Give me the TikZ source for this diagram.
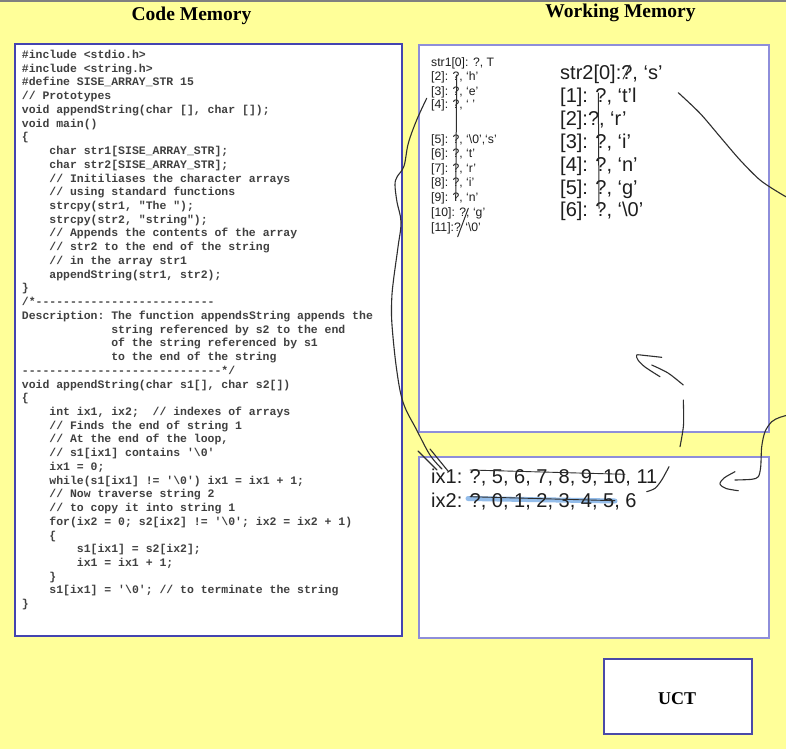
\documentclass[tikz,border=0pt]{standalone}
\usepackage{fontspec}
\setmainfont{Liberation Serif}
\setmonofont{Liberation Mono}
\newfontfamily\wmsans{Liberation Sans}

\definecolor{bgyellow}{HTML}{FFFF99}
\definecolor{codeframe}{HTML}{4444B0}
\definecolor{wmframe}{HTML}{8E8EDA}
\definecolor{uctframe}{HTML}{4A4AA8}
\definecolor{codeink}{HTML}{404040}
\definecolor{wmink}{HTML}{1E1E1E}
\definecolor{ink}{HTML}{2E2E2E}
\definecolor{hilite}{HTML}{5B9BE0}

% one line of the C listing: #1 line number, #2 indent in characters, #3 text
\newcommand\codeln[3]{\node[codeline] (cl#1) at ({21.7+#2*6.88},{58.5+(#1-1)*13.73}) {#3};}

\begin{document}
\begin{tikzpicture}[x=1pt,y=-1pt,
  title/.style={anchor=base, inner sep=0pt, font=\fontsize{19.5}{20}\selectfont\bfseries},
  codeline/.style={anchor=base west, inner sep=0pt, font=\fontsize{11.47}{13}\selectfont\ttfamily\bfseries, text=codeink},
  smallcell/.style={anchor=base west, inner sep=0pt, font=\fontsize{12.2}{13}\selectfont\wmsans, text=wmink},
  bigcell/.style={anchor=base west, inner sep=0pt, font=\fontsize{20}{22}\selectfont\wmsans, text=wmink},
  codebox/.style={draw=codeframe, line width=2pt, fill=white},
  wmbox/.style={draw=wmframe, line width=1.6pt, fill=white},
  handline/.style={draw=ink, line width=1.1pt, line cap=round, line join=round},
  strikeline/.style={draw=ink, line width=0.9pt, line cap=round}]

\useasboundingbox (0,0) rectangle (786,749);
\fill[bgyellow] (0,0) rectangle (786,749);
\draw[gray, line width=2.5pt] (0,1.25) -- (786,1.25);

% headings
\node[title] (tcode) at (191.5,21) {Code Memory};
\node[title] (twork) at (620.5,17.5) {Working Memory};

% frames
\draw[codebox] (15,44) rectangle (402,636);
\draw[wmbox] (419,45) rectangle (769,432);
\draw[wmbox] (419,457) rectangle (769,638);
\draw[draw=uctframe, line width=2.5pt, fill=white] (604,659) rectangle (752,734);
\node[title, font=\fontsize{18}{20}\selectfont\bfseries] (uct) at (677,704) {UCT};

% the C program
\codeln{1}{0}{\#include <stdio.h>}
\codeln{2}{0}{\#include <string.h>}
\codeln{3}{0}{\#define SISE\_ARRAY\_STR 15}
\codeln{4}{0}{// Prototypes}
\codeln{5}{0}{void appendString(char [], char []);}
\codeln{6}{0}{void main()}
\codeln{7}{0}{\{}
\codeln{8}{4}{char str1[SISE\_ARRAY\_STR];}
\codeln{9}{4}{char str2[SISE\_ARRAY\_STR];}
\codeln{10}{4}{// Initiliases the character arrays}
\codeln{11}{4}{// using standard functions}
\codeln{12}{4}{strcpy(str1, "The ");}
\codeln{13}{4}{strcpy(str2, "string");}
\codeln{14}{4}{// Appends the contents of the array}
\codeln{15}{4}{// str2 to the end of the string}
\codeln{16}{4}{// in the array str1}
\codeln{17}{4}{appendString(str1, str2);}
\codeln{18}{0}{\}}
\codeln{19}{0}{/*\string-\string-\string-\string-\string-\string-\string-\string-\string-\string-\string-\string-\string-\string-\string-\string-\string-\string-\string-\string-\string-\string-\string-\string-\string-\string-}
\codeln{20}{0}{Description: The function appendsString appends the}
\codeln{21}{13}{string referenced by s2 to the end}
\codeln{22}{13}{of the string referenced by s1}
\codeln{23}{13}{to the end of the string}
\codeln{24}{0}{\string-\string-\string-\string-\string-\string-\string-\string-\string-\string-\string-\string-\string-\string-\string-\string-\string-\string-\string-\string-\string-\string-\string-\string-\string-\string-\string-\string-\string-*/}
\codeln{25}{0}{void appendString(char s1[], char s2[])}
\codeln{26}{0}{\{}
\codeln{27}{4}{int ix1, ix2;~~// indexes of arrays}
\codeln{28}{4}{// Finds the end of string 1}
\codeln{29}{4}{// At the end of the loop,}
\codeln{30}{4}{// s1[ix1] contains '\textbackslash 0'}
\codeln{31}{4}{ix1 = 0;}
\codeln{32}{4}{while(s1[ix1] != '\textbackslash 0') ix1 = ix1 + 1;}
\codeln{33}{4}{// Now traverse string 2}
\codeln{34}{4}{// to copy it into string 1}
\codeln{35}{4}{for(ix2 = 0; s2[ix2] != '\textbackslash 0'; ix2 = ix2 + 1)}
\codeln{36}{4}{\{}
\codeln{37}{8}{s1[ix1] = s2[ix2];}
\codeln{38}{8}{ix1 = ix1 + 1;}
\codeln{39}{4}{\}}
\codeln{40}{4}{s1[ix1] = '\textbackslash 0'; // to terminate the string}
\codeln{41}{0}{\}}

% str1 cells
\node[smallcell] (s1a) at (431,67) {str1[0]: ?, T};
\node[smallcell] (s1b) at (431,81) {[2]: ?, ‘h’};
\node[smallcell] (s1c) at (431,95.5) {[3]: ?, ‘e’};
\node[smallcell] (s1d) at (431,109) {[4]: ?, ‘ ’};
\node[smallcell] (s1e) at (431,143) {[5]: ?, ‘\textbackslash 0’,‘s’};
\node[smallcell] (s1f) at (431,157.5) {[6]: ?, ‘t’};
\node[smallcell] (s1g) at (431,172) {[7]: ?, ‘r’};
\node[smallcell] (s1h) at (431,186.5) {[8]: ?, ‘i’};
\node[smallcell] (s1i) at (431,201.5) {[9]: ?, ‘n’};
\node[smallcell] (s1j) at (431,216.5) {[10]: ?, ‘g’};
\node[smallcell] (s1k) at (431,231.5) {[11]:? ‘\textbackslash 0’};

% str2 cells
\node[bigcell] (s2a) at (560,79.5) {str2[0]:?, ‘s’};
\node[bigcell] (s2b) at (560,102.4) {[1]: ?, ‘t’l};
\node[bigcell] (s2c) at (560,125.3) {[2]:?, ‘r’};
\node[bigcell] (s2d) at (560,148.2) {[3]: ?, ‘i’};
\node[bigcell] (s2e) at (560,171.1) {[4]: ?, ‘n’};
\node[bigcell] (s2f) at (560,194) {[5]: ?, ‘g’};
\node[bigcell] (s2g) at (560,216.9) {[6]: ?, ‘\textbackslash 0’};

% index variables
\draw[hilite, opacity=0.65, line width=5pt, line cap=round] (468,498.5) -- (615,501);
\node[bigcell] (ixa) at (431,483.5) {ix1: ?, 5, 6, 7, 8, 9, 10, 11};
\node[bigcell] (ixb) at (431,507) {ix2: ?, 0, 1, 2, 3, 4, 5, 6};

% crossings-out
\draw[strikeline] (470,470) -- (625,474.3);
\draw[strikeline] (470,496.7) -- (615,500.7);
\draw[handline, line width=1pt] (456.7,75) -- (455.7,200);
\draw[handline, line width=1pt] (468.3,208.3) -- (457.7,236.7);
\draw[handline, line width=1pt] (598.3,93) -- (599,208.3);
\draw[handline, line width=0.9pt] (630,65) -- (623,79);

% hand-drawn arrows
\draw[handline] plot[smooth, tension=0.6] coordinates {(426.7,98.3) (416.7,120) (408.3,143.3) (404,166) (397,177) (395,185) (397,202) (401,222) (398,247) (393.5,280) (391.7,300) (392,325) (396.7,370) (403.3,403) (416.7,430) (430,455) (442,469)};
\draw[handline] (418,451) -- (437,470);
\draw[handline] (430,449) -- (448,471);

\draw[handline] plot[smooth] coordinates {(678.3,92.7) (700,113.3) (720,136.7) (740,160) (760,180) (780,193.3) (792,200)};

\draw[handline] plot[smooth] coordinates {(792,414) (780,417.3) (771.7,421.7) (765,431.7) (761.7,446.7) (760.7,466.7) (758.3,476.7) (751.7,479.3) (735,480)};
\draw[handline] plot[smooth] coordinates {(735,471.7) (724,478) (720,484) (726,488.5) (738.3,490.7)};

\draw[handline] plot[smooth] coordinates {(680,446.7) (683.5,425) (683.3,400)};
\draw[handline] plot[smooth] coordinates {(683.3,385) (668,373) (651.7,365)};
\draw[handline] plot[smooth] coordinates {(661.7,357.3) (645,355.5) (636.7,355) (638,360) (645,367) (660,376.7)};

\draw[handline] plot[smooth] coordinates {(669,466.7) (661.7,480) (655,488.3) (646.7,491.7)};

\end{tikzpicture}
\end{document}
